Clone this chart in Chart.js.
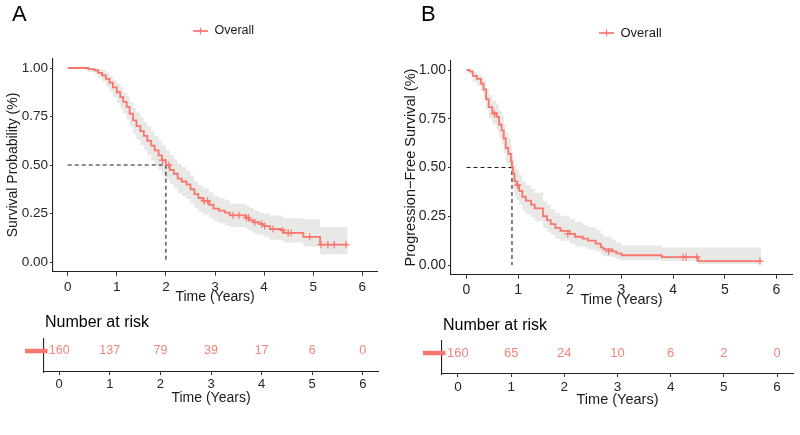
<!DOCTYPE html>
<html><head><meta charset="utf-8">
<script src="https://cdn.jsdelivr.net/npm/chart.js@4.4.1/dist/chart.umd.min.js"></script>
<style>
html,body{margin:0;padding:0;background:#fff;width:800px;height:435px;overflow:hidden;position:relative;}
canvas{position:absolute;}
</style></head><body>
<canvas id="mainA" width="400" height="310" style="left:0;top:0"></canvas>
<canvas id="mainB" width="400" height="310" style="left:400px;top:0"></canvas>
<canvas id="riskA" width="400" height="135" style="left:0;top:300px"></canvas>
<canvas id="riskB" width="400" height="135" style="left:400px;top:300px"></canvas>
<script>
const FONT = "'Liberation Sans', Arial, Helvetica, sans-serif";
const RED = '#F8766D';
const RISK_RED = '#F0857C';
const BAND = '#E8E8E6';
const INK = '#1a1a1a';

const seriesName = 'Overall';
const xTicks = [0, 1, 2, 3, 4, 5, 6];
const yTicks = [0, 0.25, 0.5, 0.75, 1];
const riskTimes = [0, 1, 2, 3, 4, 5, 6];

// Panel A: overall survival
const osTime  = [0,0.42,0.55,0.62,0.70,0.78,0.85,0.92,1.00,1.07,1.13,1.20,1.26,1.33,1.40,1.48,1.55,1.62,1.70,1.77,1.85,1.92,2.00,2.08,2.16,2.24,2.32,2.42,2.50,2.58,2.66,2.75,2.88,2.97,3.08,3.20,3.30,3.62,3.70,3.78,3.90,4.00,4.12,4.35,4.40,4.80,5.14,5.70];
const osSurv  = [1,0.994,0.988,0.975,0.962,0.944,0.925,0.900,0.875,0.850,0.825,0.800,0.765,0.730,0.700,0.675,0.650,0.625,0.600,0.575,0.550,0.525,0.500,0.475,0.455,0.430,0.415,0.400,0.375,0.350,0.330,0.315,0.295,0.275,0.265,0.255,0.240,0.228,0.215,0.205,0.195,0.185,0.170,0.163,0.150,0.130,0.090,0.090];
const osLower = [1,0.98,0.97,0.95,0.93,0.905,0.88,0.85,0.82,0.79,0.765,0.735,0.70,0.66,0.63,0.60,0.575,0.55,0.525,0.50,0.475,0.45,0.425,0.40,0.38,0.355,0.34,0.325,0.30,0.28,0.26,0.245,0.225,0.21,0.20,0.19,0.18,0.17,0.16,0.145,0.14,0.13,0.115,0.11,0.10,0.08,0.04,0.04];
const osUpper = [1,1,1,0.995,0.99,0.975,0.96,0.94,0.92,0.90,0.875,0.855,0.825,0.795,0.77,0.745,0.72,0.70,0.675,0.65,0.625,0.60,0.575,0.55,0.53,0.505,0.49,0.47,0.445,0.415,0.395,0.38,0.36,0.34,0.33,0.32,0.30,0.29,0.28,0.265,0.255,0.25,0.24,0.235,0.225,0.22,0.18,0.18];
const osCensorTime = [1.93,2.06,2.78,2.85,3.37,3.49,3.64,3.68,3.81,3.95,4.01,4.18,4.38,4.49,4.55,4.93,5.16,5.30,5.43,5.67];
const osCensorSurv = [0.525,0.50,0.315,0.315,0.24,0.24,0.228,0.228,0.205,0.195,0.185,0.17,0.163,0.15,0.15,0.13,0.09,0.09,0.09,0.09];
const osMedian = 2.0;
const osRisk = [160, 137, 79, 39, 17, 6, 0];

// Panel B: progression-free survival
const pfsTime  = [0,0.06,0.12,0.20,0.28,0.33,0.38,0.43,0.50,0.58,0.63,0.68,0.72,0.76,0.81,0.86,0.88,0.90,0.93,0.97,1.02,1.08,1.15,1.25,1.32,1.48,1.56,1.63,1.72,1.82,2.00,2.10,2.25,2.35,2.50,2.60,2.65,2.82,2.90,3.00,3.78,4.48,5.70];
const pfsSurv  = [1,0.993,0.97,0.955,0.93,0.90,0.85,0.81,0.78,0.76,0.72,0.69,0.65,0.60,0.57,0.53,0.50,0.47,0.43,0.41,0.38,0.35,0.33,0.31,0.29,0.25,0.23,0.21,0.19,0.175,0.16,0.145,0.135,0.125,0.11,0.09,0.08,0.07,0.06,0.05,0.04,0.02,0.02];
const pfsLower = [1,0.98,0.94,0.92,0.89,0.85,0.80,0.75,0.72,0.69,0.65,0.62,0.575,0.525,0.495,0.455,0.425,0.395,0.355,0.335,0.31,0.28,0.26,0.245,0.225,0.19,0.17,0.155,0.135,0.125,0.11,0.095,0.09,0.08,0.07,0.055,0.045,0.04,0.03,0.025,0.02,0.005,0.005];
const pfsUpper = [1,1,0.99,0.98,0.965,0.945,0.905,0.87,0.845,0.825,0.79,0.765,0.725,0.68,0.65,0.61,0.58,0.55,0.51,0.49,0.46,0.43,0.41,0.39,0.37,0.33,0.31,0.285,0.265,0.25,0.235,0.22,0.205,0.195,0.18,0.16,0.145,0.13,0.115,0.10,0.09,0.09,0.09];
const pfsCensorTime = [0.54,0.99,1.96,2.75,4.19,4.25,4.46,5.68];
const pfsCensorSurv = [0.775,0.41,0.16,0.07,0.04,0.04,0.04,0.02];
const pfsMedian = 0.88;
const pfsRisk = [160, 65, 24, 10, 6, 2, 0];

Chart.defaults.font.family = FONT;
Chart.defaults.color = INK;

function pts(xs, ys) { return xs.map((x, i) => ({ x: x, y: ys[i] })); }

function xScale(o) {
  return {
    type: 'linear', min: -0.3, max: 6.3,
    afterBuildTicks: s => { s.ticks = xTicks.map(v => ({ value: v })); },
    afterFit: s => { s.height = o.xH; },
    ticks: { font: { size: o.tickSize }, color: '#262626', padding: o.tickPad, maxRotation: 0, autoSkip: false, callback: v => String(v) },
    grid: { display: true, drawOnChartArea: false, drawTicks: true, tickLength: o.tickLen, tickColor: '#333', tickWidth: 1 },
    border: { display: true, color: '#222', width: 1.1 },
    title: { display: true, text: 'Time (Years)', font: { size: o.titleSize }, color: INK, padding: { top: 0, bottom: 0 } }
  };
}

function mainChart(id, d) {
  const legendPlugin = {
    id: 'decor' + id,
    afterDraw(chart) {
      const ctx = chart.ctx;
      ctx.save();
      ctx.fillStyle = '#000';
      ctx.font = '22px ' + FONT;
      ctx.textBaseline = 'middle';
      ctx.textAlign = 'left';
      ctx.fillText(d.letter, d.letterX, d.letterY);
      const lx = d.legX, ly = d.legY;
      ctx.strokeStyle = RED;
      ctx.lineWidth = 1.7;
      ctx.beginPath(); ctx.moveTo(lx, ly); ctx.lineTo(lx + 15, ly); ctx.stroke();
      ctx.lineWidth = 1.2;
      ctx.beginPath(); ctx.moveTo(lx + 7.5, ly - 3.5); ctx.lineTo(lx + 7.5, ly + 3.5); ctx.stroke();
      ctx.fillStyle = INK;
      ctx.font = d.legSize + 'px ' + FONT;
      ctx.fillText(seriesName, lx + 21.5, ly);
      ctx.restore();
    }
  };
  return new Chart(document.getElementById(id), {
    type: 'line',
    data: {
      datasets: [
        { label: 'upper', data: pts(d.time, d.upper), stepped: 'before', borderWidth: 0, borderColor: 'rgba(0,0,0,0)', pointRadius: 0, fill: '+1', backgroundColor: BAND, order: 10 },
        { label: 'lower', data: pts(d.time, d.lower), stepped: 'before', borderWidth: 0, borderColor: 'rgba(0,0,0,0)', pointRadius: 0, fill: false, order: 9 },
        { label: 'median', data: [{ x: 0, y: 0.5 }, { x: d.median, y: 0.5 }, { x: d.median, y: 0 }], borderColor: '#1f1f1f', borderWidth: 1.1, borderDash: [4, 3], pointRadius: 0, fill: false, order: 3 },
        { label: seriesName, data: pts(d.time, d.surv), stepped: 'before', borderColor: RED, borderWidth: 1.8, pointRadius: 0, fill: false, order: 2 },
        { label: 'censor', type: 'scatter', data: pts(d.censT, d.censS), pointStyle: 'cross', pointRadius: 3.6, borderColor: RED, backgroundColor: RED, borderWidth: 1.2, showLine: false, order: 1 }
      ]
    },
    options: {
      responsive: false, animation: false, devicePixelRatio: 1,
      layout: { padding: { left: 0, right: d.padR, top: d.padT, bottom: d.padB } },
      plugins: { legend: { display: false }, tooltip: { enabled: false }, title: { display: false } },
      scales: {
        x: xScale({ xH: d.xH, tickSize: d.tickSize, tickPad: 3, tickLen: 4, titleSize: d.titleSize }),
        y: {
          type: 'linear', min: -0.05, max: 1.05,
          afterBuildTicks: s => { s.ticks = yTicks.map(v => ({ value: v })); },
          afterFit: s => { s.width = d.yW; },
          ticks: { font: { size: d.tickSize }, color: '#262626', padding: 2, callback: v => v.toFixed(2) },
          grid: { display: true, drawOnChartArea: false, drawTicks: true, tickLength: 3, tickColor: '#333', tickWidth: 1 },
          border: { display: true, color: '#222', width: 1.1 },
          title: { display: true, text: d.yTitle, font: { size: d.titleSize }, color: INK, padding: { top: d.yTitlePad, bottom: 0 } }
        }
      }
    },
    plugins: [legendPlugin]
  });
}

function riskChart(id, d) {
  const riskPlugin = {
    id: 'risk' + id,
    afterDatasetsDraw(chart) {
      const ctx = chart.ctx;
      const meta = chart.getDatasetMeta(0);
      const area = chart.chartArea;
      ctx.save();
      ctx.fillStyle = RISK_RED;
      ctx.font = d.numSize + 'px ' + FONT;
      ctx.textAlign = 'center';
      ctx.textBaseline = 'middle';
      meta.data.forEach((p, i) => { ctx.fillText(String(d.risk[i]), p.x, p.y); });
      const rowY = meta.data[0].y;
      ctx.strokeStyle = RED;
      ctx.lineWidth = 4.5;
      ctx.beginPath(); ctx.moveTo(area.left - 19, rowY); ctx.lineTo(area.left + 3.5, rowY); ctx.stroke();
      ctx.fillStyle = '#000';
      ctx.font = '16px ' + FONT;
      ctx.textAlign = 'left';
      ctx.fillText('Number at risk', area.left + 1, area.top - d.titleOff);
      ctx.restore();
    }
  };
  return new Chart(document.getElementById(id), {
    type: 'scatter',
    data: { datasets: [{ label: seriesName, data: riskTimes.map(t => ({ x: t, y: 0 })), pointRadius: 0, borderWidth: 0 }] },
    options: {
      responsive: false, animation: false, devicePixelRatio: 1,
      layout: { padding: { left: 0, right: d.padR, top: d.padT, bottom: d.padB } },
      plugins: { legend: { display: false }, tooltip: { enabled: false } },
      scales: {
        x: xScale({ xH: d.xH, tickSize: d.tickSize, tickPad: 2, tickLen: 3, titleSize: d.titleSize }),
        y: {
          type: 'linear', min: -0.636, max: 0.364,
          afterFit: s => { s.width = d.yW; },
          ticks: { display: false },
          grid: { display: false },
          border: { display: true, color: '#222', width: 1.1 }
        }
      }
    },
    plugins: [riskPlugin]
  });
}

mainChart('mainA', {
  time: osTime, surv: osSurv, lower: osLower, upper: osUpper, censT: osCensorTime, censS: osCensorSurv, median: osMedian,
  yTitle: 'Survival Probability (%)', letter: 'A', letterX: 12, letterY: 15, legX: 193, legY: 31, legSize: 12.5,
  yW: 53, padR: 23, padT: 58.3, xH: 33.7, padB: 4.6, tickSize: 13.5, titleSize: 14, yTitlePad: 4.5
});
mainChart('mainB', {
  time: pfsTime, surv: pfsSurv, lower: pfsLower, upper: pfsUpper, censT: pfsCensorTime, censS: pfsCensorSurv, median: pfsMedian,
  yTitle: 'Progression\u2212Free Survival (%)', letter: 'B', letterX: 21, letterY: 14.5, legX: 199, legY: 33, legSize: 13,
  yW: 51, padR: 8, padT: 60.25, xH: 33.65, padB: 1.6, tickSize: 14, titleSize: 14.5, yTitlePad: 2.5
});
riskChart('riskA', { risk: osRisk, yW: 44, padR: 22, padT: 39, xH: 34.4, padB: 28.6, tickSize: 13, titleSize: 14, numSize: 12.5, titleOff: 16 });
riskChart('riskB', { risk: pfsRisk, yW: 42, padR: 7, padT: 41, xH: 34.4, padB: 26.6, tickSize: 13.5, titleSize: 14.5, numSize: 13, titleOff: 15 });
</script>
</body></html>
